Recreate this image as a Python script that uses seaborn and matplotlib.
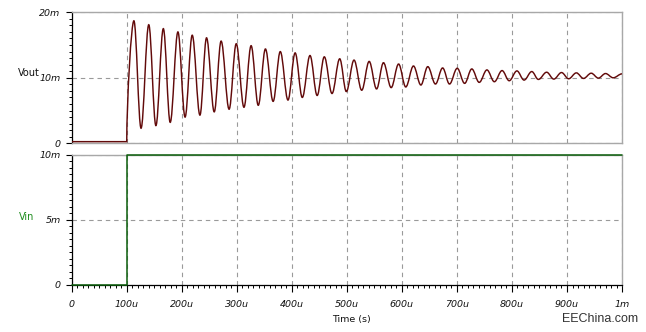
import matplotlib
matplotlib.use("Agg")
import matplotlib.pyplot as plt
from matplotlib.ticker import MultipleLocator
from matplotlib.path import Path
from matplotlib.patches import PathPatch
import seaborn as sns

# Output voltage trace: extrema of the ringing step response (time in us, volts in mV)
vout_t = [0, 100, 113, 126, 140, 153, 166.5, 179, 193, 206, 219, 233, 245, 259,
          271.5, 286, 299, 313, 326, 339, 352, 366, 379, 393, 406, 419, 433, 446,
          459, 473, 487, 499, 513, 527, 540.5, 554, 566.5, 580.5, 594, 607, 621,
          634.5, 647, 661, 674, 686.5, 700.5, 714, 727, 740.5, 754.5, 768, 782,
          795, 809, 822, 836, 848, 863, 876, 890, 903, 917, 930, 944, 957, 970,
          984, 1000]
vout_v = [0.25, 0.25, 18.7, 2.3, 18.1, 2.7, 17.5, 3.2, 17.0, 4.0, 16.5, 4.3, 16.1,
          4.8, 15.6, 5.2, 15.2, 5.5, 14.9, 5.8, 14.4, 6.4, 14.0, 6.6, 13.8, 7.0,
          13.4, 7.3, 13.2, 7.6, 12.9, 7.9, 12.7, 8.1, 12.5, 8.3, 12.3, 8.5, 12.1,
          8.6, 11.8, 8.9, 11.7, 9.05, 11.5, 9.05, 11.45, 9.15, 11.35, 9.3, 11.2,
          9.4, 11.1, 9.55, 11.05, 9.65, 10.95, 9.75, 10.85, 9.8, 10.8, 9.85,
          10.75, 9.9, 10.7, 9.95, 10.65, 10.0, 10.6]

# Input step (time in us, volts in mV)
vin_t = [0, 100, 100, 1000]
vin_v = [0, 0, 10, 10]

time_ticks = [0, 100, 200, 300, 400, 500, 600, 700, 800, 900, 1000]
time_labels = ["0", "100u", "200u", "300u", "400u", "500u", "600u", "700u",
               "800u", "900u", "1m"]
vout_ticks = [0, 10, 20]
vout_labels = ["0", "10m", "20m"]
vin_ticks = [0, 5, 10]
vin_labels = ["0", "5m", "10m"]

sns.set_style("white")
plt.rcParams["font.family"] = ["DejaVu Sans"]

VOUT_COLOR = "#620a0a"
VIN_COLOR = "#0b5e0b"
FRAME_GREY = "#a8a8a8"
GRID_GREY = "#9a9a9a"


def ringing_path(ts, vs):
    """Flat lead-in, then smooth swings between successive extrema
    (cubic segments with level tangents at each peak and trough)."""
    verts = [(ts[0], vs[0]), (ts[1], vs[1])]
    codes = [Path.MOVETO, Path.LINETO]
    for i in range(1, len(ts) - 1):
        t0, v0, t1, v1 = ts[i], vs[i], ts[i + 1], vs[i + 1]
        dt = t1 - t0
        if i == 1:
            # the step edge leaves the baseline steeply
            c1 = (t0 + 0.02 * dt, v0 + 0.35 * (v1 - v0))
        else:
            c1 = (t0 + 0.363 * dt, v0)
        c2 = (t1 - 0.363 * dt, v1)
        verts += [c1, c2, (t1, v1)]
        codes += [Path.CURVE4] * 3
    return Path(verts, codes)


fig = plt.figure(figsize=(6.46, 3.32), dpi=100)
fig.patch.set_facecolor("white")
ax1 = fig.add_axes([0.111, 0.5684, 0.8519, 0.3946])
ax2 = fig.add_axes([0.111, 0.1416, 0.8519, 0.3916])

ax1.add_patch(PathPatch(ringing_path(vout_t, vout_v), facecolor="none",
                        edgecolor=VOUT_COLOR, linewidth=1.05, zorder=3,
                        transform=ax1.transData))
sns.lineplot(x=vin_t, y=vin_v, ax=ax2, color=VIN_COLOR, linewidth=1.1,
             estimator=None, sort=False, zorder=3, clip_on=False)

tick_font = dict(fontsize=6.8, fontstyle="italic")

for ax, yt, yl, ymax, yminor in ((ax1, vout_ticks, vout_labels, 20, 1),
                                 (ax2, vin_ticks, vin_labels, 10, 0.5)):
    ax.set_xlim(0, 1000)
    ax.set_ylim(0, ymax)
    ax.set_xlabel("")
    ax.set_ylabel("")
    ax.set_facecolor("white")
    ax.set_xticks(time_ticks)
    ax.xaxis.set_minor_locator(MultipleLocator(10))
    ax.set_yticks(yt)
    ax.set_yticklabels(yl, **tick_font)
    ax.yaxis.set_minor_locator(MultipleLocator(yminor))
    ax.tick_params(axis="y", which="major", direction="out", length=4,
                   width=0.8, color="black", left=True, pad=4,
                   labelcolor="#111111")
    ax.tick_params(axis="y", which="minor", direction="out", length=2,
                   width=0.7, color="black", left=True)
    ax.set_axisbelow(True)
    ax.grid(True, which="major", color=GRID_GREY, linewidth=0.8,
            linestyle=(0, (4, 3.5)))
    ax.grid(False, which="minor")
    for side in ("top", "right"):
        ax.spines[side].set_color(FRAME_GREY)
        ax.spines[side].set_linewidth(1.0)
        ax.spines[side].set_visible(True)
    ax.spines["left"].set_color("black")
    ax.spines["left"].set_linewidth(0.9)

# Upper panel: no time axis, grey frame at the bottom
ax1.tick_params(axis="x", which="both", bottom=False, labelbottom=False)
ax1.spines["bottom"].set_color(FRAME_GREY)
ax1.spines["bottom"].set_linewidth(1.0)

# Lower panel: time axis
ax2.set_xticklabels(time_labels, **tick_font)
ax2.tick_params(axis="x", which="major", direction="out", length=5, width=0.8,
                color="black", bottom=True, pad=6, labelcolor="#111111")
ax2.tick_params(axis="x", which="minor", direction="out", length=2.5,
                width=0.7, color="black", bottom=True)
ax2.spines["bottom"].set_color("black")
ax2.spines["bottom"].set_linewidth(0.9)

fig.text(18 / 646, 1 - 73 / 332, "Vout", fontsize=7, color="#111111",
         ha="left", va="center")
fig.text(19 / 646, 1 - 217 / 332, "Vin", fontsize=7, color="#1e8c1e",
         ha="left", va="center")
fig.text(351 / 646, 1 - 319.5 / 332, "Time (s)", fontsize=6.8,
         color="#111111", ha="center", va="center")
fig.text(600 / 646, 1 - 319.5 / 332, "EEChina.com", fontsize=9,
         family="Liberation Sans", color="#333333", ha="center", va="center")

fig.savefig("out.png", dpi=100, facecolor="white")
